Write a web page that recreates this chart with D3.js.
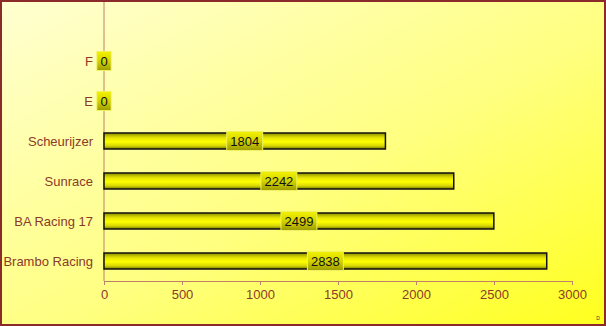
<!DOCTYPE html>
<html>
<head>
<meta charset="utf-8">
<script src="https://cdn.jsdelivr.net/npm/d3@7"></script>
<style>
  body { margin: 0; padding: 0; }
  svg { display: block; font-family: Arial, "Liberation Sans", sans-serif; }
</style>
</head>
<body>
<div id="myPlot"></div>
<script>
// Data
const categories = ["Brambo Racing", "BA Racing 17", "Sunrace", "Scheurijzer", "E", "F"];
const values = [2838, 2499, 2242, 1804, 0, 0];
const xTicks = [0, 500, 1000, 1500, 2000, 2500, 3000];

// Dimensions
const width = 606;
const height = 326;
const plotLeft = 104;
const plotRight = 572;
const plotBottom = 281;
const plotTop = 41;

const rows = categories.map(function (c, i) { return { name: c, value: values[i] }; });

const svg = d3.select("#myPlot")
  .append("svg")
  .attr("width", width)
  .attr("height", height);

const defs = svg.append("defs");

// Background gradient
const bg = defs.append("linearGradient")
  .attr("id", "bg")
  .attr("x1", "0%").attr("y1", "0%")
  .attr("x2", "100%").attr("y2", "100%");
bg.append("stop").attr("offset", "0%").attr("stop-color", "#ffffd2");
bg.append("stop").attr("offset", "55%").attr("stop-color", "#ffff80");
bg.append("stop").attr("offset", "100%").attr("stop-color", "#ffff1e");

// Bar gradient
const barGrad = defs.append("linearGradient")
  .attr("id", "barGrad")
  .attr("x1", "0").attr("y1", "0")
  .attr("x2", "0").attr("y2", "1");
barGrad.append("stop").attr("offset", "0%").attr("stop-color", "#8a8a00");
barGrad.append("stop").attr("offset", "30%").attr("stop-color", "#e6e600");
barGrad.append("stop").attr("offset", "55%").attr("stop-color", "#ffff00");
barGrad.append("stop").attr("offset", "80%").attr("stop-color", "#d8d800");
barGrad.append("stop").attr("offset", "100%").attr("stop-color", "#7a7a00");

// Label box gradient
const labGrad = defs.append("linearGradient")
  .attr("id", "labGrad")
  .attr("x1", "0").attr("y1", "0")
  .attr("x2", "0").attr("y2", "1");
labGrad.append("stop").attr("offset", "0%").attr("stop-color", "#f2f200");
labGrad.append("stop").attr("offset", "50%").attr("stop-color", "#d4d400");
labGrad.append("stop").attr("offset", "100%").attr("stop-color", "#9c9c00");

svg.append("rect")
  .attr("x", 1).attr("y", 1)
  .attr("width", width - 2).attr("height", height - 2)
  .attr("fill", "url(#bg)")
  .attr("stroke", "#8b2a2a")
  .attr("stroke-width", 2);

// Scales
const x = d3.scaleLinear()
  .domain([0, 3000])
  .range([plotLeft, plotRight]);

const y = d3.scaleBand()
  .domain(categories)
  .range([plotBottom, plotTop])
  .paddingInner(0.6)
  .paddingOuter(0.3);

const axisColor = "#c08068";
const textColor = "#8b3a2a";

// Y axis line
svg.append("line")
  .attr("x1", plotLeft).attr("x2", plotLeft)
  .attr("y1", 2).attr("y2", plotBottom)
  .attr("stroke", axisColor);

// X axis
const xAxis = svg.append("g")
  .attr("transform", "translate(0," + plotBottom + ")")
  .call(d3.axisBottom(x).tickValues(xTicks).tickFormat(d3.format("d"))
    .tickSize(4).tickPadding(5).tickSizeOuter(0));
xAxis.select(".domain").attr("stroke", axisColor);
xAxis.selectAll(".tick line").attr("stroke", axisColor);
xAxis.selectAll(".tick text")
  .attr("fill", textColor)
  .style("font-size", "13px")
  .style("font-family", "Arial, 'Liberation Sans', sans-serif");

// Category labels
svg.append("g")
  .selectAll("text")
  .data(rows).enter()
  .append("text")
  .attr("x", 93)
  .attr("y", function (d) { return y(d.name) + y.bandwidth() / 2; })
  .attr("dy", "0.35em")
  .attr("text-anchor", "end")
  .attr("fill", textColor)
  .style("font-size", "13px")
  .text(function (d) { return d.name; });

// Bars
svg.append("g")
  .selectAll("rect")
  .data(rows.filter(function (d) { return d.value > 0; })).enter()
  .append("rect")
  .attr("x", x(0))
  .attr("y", function (d) { return y(d.name); })
  .attr("width", function (d) { return x(d.value) - x(0); })
  .attr("height", y.bandwidth())
  .attr("fill", "url(#barGrad)")
  .attr("stroke", "#111")
  .attr("stroke-width", 1.5);

// Value labels
const labels = svg.append("g")
  .selectAll("g")
  .data(rows).enter()
  .append("g")
  .attr("transform", function (d) {
    const cx = (x(0) + x(d.value)) / 2;
    const cy = y(d.name) + y.bandwidth() / 2;
    return "translate(" + cx + "," + cy + ")";
  });

labels.append("text")
  .attr("text-anchor", "middle")
  .attr("dy", "0.36em")
  .attr("fill", "#111")
  .style("font-size", "13px")
  .text(function (d) { return d.value; })
  .each(function () {
    const bb = this.getBBox();
    d3.select(this.parentNode).insert("rect", "text")
      .attr("x", bb.x - 3.5)
      .attr("y", -9.5)
      .attr("width", bb.width + 7)
      .attr("height", 19)
      .attr("fill", "url(#labGrad)")
      .attr("stroke", "#f0f060")
      .attr("stroke-width", 1);
  });

// Tiny mark bottom right
svg.append("text")
  .attr("x", 598).attr("y", 320)
  .attr("text-anchor", "middle")
  .attr("fill", "#333")
  .style("font-size", "5px")
  .text("D");
</script>
</body>
</html>
